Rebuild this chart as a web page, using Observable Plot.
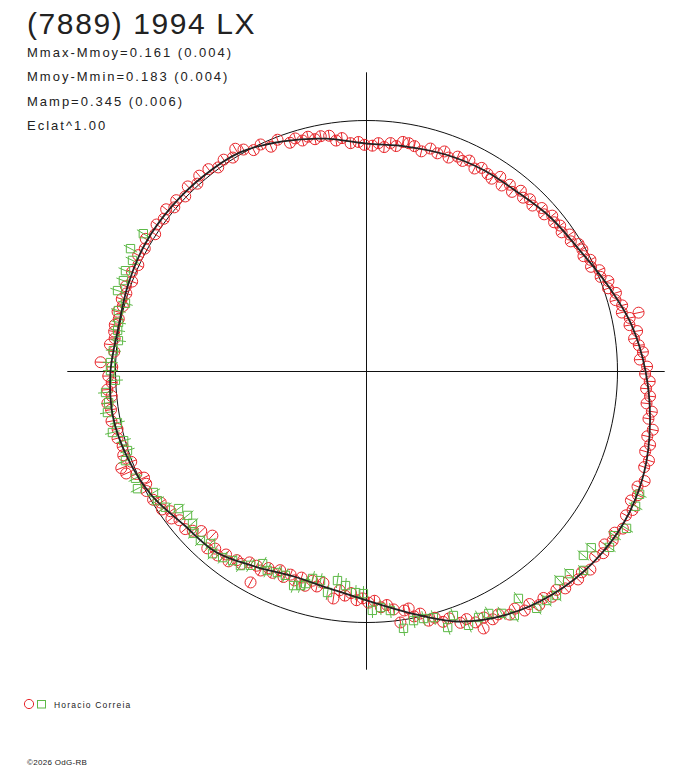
<!DOCTYPE html>
<html><head><meta charset="utf-8">
<script src="https://cdn.jsdelivr.net/npm/d3@7"></script>
<script src="https://cdn.jsdelivr.net/npm/@observablehq/plot@0.6"></script>
<style>
body{margin:0;background:#fff;}
#wrap{position:relative;width:688px;height:768px;font-family:"Liberation Sans",Arial,sans-serif;color:#222;overflow:hidden;}
#chart{position:absolute;left:0;top:0;}
.t{position:absolute;white-space:nowrap;line-height:1;}
</style></head><body>
<div id="wrap">
  <div id="chart"></div>
  <div class="t" id="title" style="left:27px;top:8.9px;font-size:30px;letter-spacing:1.6px"></div>
  <div class="t" id="s0" style="left:27px;top:45.5px;font-size:13px;letter-spacing:2px"></div>
  <div class="t" id="s1" style="left:27px;top:70px;font-size:13px;letter-spacing:2px"></div>
  <div class="t" id="s2" style="left:27px;top:94.5px;font-size:13px;letter-spacing:2px"></div>
  <div class="t" id="s3" style="left:27px;top:119px;font-size:13px;letter-spacing:2px"></div>
  <svg style="position:absolute;left:0;top:690px" width="60" height="30">
    <circle cx="29" cy="14" r="4.6" fill="none" stroke="#e8262b" stroke-width="1"/>
    <rect x="37.5" y="10.5" width="8" height="7.5" fill="none" stroke="#5db947" stroke-width="1"/>
  </svg>
  <div class="t" id="legend" style="left:54px;top:700.8px;font-size:8.5px;letter-spacing:1.2px"></div>
  <div class="t" id="copy" style="left:27px;top:759px;font-size:8px;letter-spacing:0.3px"></div>
</div>
<script>
// ---- texts ----
const titleText = "(7889) 1994 LX";
const statLines = ["Mmax-Mmoy=0.161 (0.004)", "Mmoy-Mmin=0.183 (0.004)", "Mamp=0.345 (0.006)", "Eclat^1.00"];
const observer = "Horacio Correia";
const copyright = "©2026 OdG-RB";

// ---- fit curve: relative flux vs rotational phase (degrees) ----
const fitPhase = [0,10,20,30,40,50,60,70,80,90,100,110,120,130,140,150,160,170,180,190,200,210,220,230,240,250,260,270,280,290,300,310,320,330,340,350];
const fitFlux  = [1.112,1.072,1.019,0.976,0.956,0.934,0.928,0.920,0.910,0.908,0.942,0.976,1.008,1.014,1.017,1.018,1.011,1.004,1.020,1.026,1.012,0.988,0.950,0.937,0.896,0.867,0.876,0.912,0.976,1.060,1.118,1.157,1.181,1.189,1.177,1.147];

// ---- mean flux reference circle and axis reach ----
const meanFlux = 1;
const axisReach = 1.19;

// ---- session 1 (red circles) ----
const redPhase = [1,2.5,4,5.5,7,8.5,10,11.5,12.2,13,14.5,16,17.5,19,20.5,22,23.5,25,26.5,28,29.5,
31,32.5,34,35.5,37,38.5,40,41.5,43,45,46.5,48,49.5,51,52.5,54,55.5,57,58.5,
60.5,62,64,65.5,67,69,70.5,72,74,76,78,79.5,81,82.5,84,85.5,87,88.5,
90.5,92,94,96,97.5,99,101,102.5,104,105.5,107,108.5,111,113,115,117,119,
120.5,122,124,126,128,130.5,132,134,136,138,139.5,141,143,145,147,149,
151,153,155,157,159,160.5,162,163.5,165,166.5,168,169.5,
171,172.5,174,175.5,178,179,181,182.5,184,185.5,187,188.5,191,193,195,197,199,
201,201.5,203,204,205.5,207,208.5,211,212.5,214,215.5,217,218.5,
221,222.5,224,226.8,228,229.5,231,232.5,234,235.5,237,238.5,
240.5,241.2,242,243.5,245,246.5,248,249.5,251,252.5,254,255.5,257,258.5,
261.7,263,264.5,266,267.5,269,270.5,272,273.5,275,276.5,277.7,279,280.1,
281,282.5,284,285.5,287,288.5,290.5,292,293.5,294.5,295.5,297,298.5,
300.5,302,303.5,305,306.5,308,309.5,311,312.5,314,315.5,317,318.5,
321,322.5,324,325.5,327,328.5,331,332.5,334,335.5,337,338.5,
341,342.5,344,345.5,347,348.5,350.5,352,353.5,355,356.5,358,359.5];
const redFlux = [1.118,1.090,1.104,1.090,1.074,1.090,1.064,1.070,1.109,1.044,1.052,1.032,1.042,1.018,1.029,1.006,1.012,0.987,0.997,0.979,0.988,
0.986,0.965,0.976,0.955,0.966,0.955,0.966,0.945,0.955,0.935,0.946,0.932,0.947,0.921,0.938,0.916,0.941,0.916,0.923,
0.932,0.916,0.935,0.922,0.930,0.913,0.930,0.914,0.924,0.904,0.918,0.925,0.926,0.906,0.915,0.897,0.911,0.900,
0.903,0.915,0.912,0.935,0.928,0.951,0.955,0.948,0.964,0.955,0.971,0.961,0.989,0.973,0.998,0.990,1.011,
1.030,1.005,1.018,1.005,1.023,1.026,1.007,1.025,1.004,1.020,1.007,1.027,1.011,1.021,1.004,1.026,
1.010,1.021,1.003,1.015,1.000,1.017,1.006,1.017,1.005,1.020,1.009,1.020,
1.018,1.012,1.028,1.008,1.060,1.013,1.029,1.016,1.035,1.020,1.040,1.029,1.035,1.018,1.027,1.016,1.025,
1.004,1.050,1.040,1.004,0.982,0.985,0.998,0.992,0.972,0.983,0.959,0.973,0.952,
0.957,0.939,0.915,0.897,0.948,0.928,0.943,0.919,0.935,0.912,0.914,0.892,
0.889,0.959,0.898,0.875,0.885,0.863,0.883,0.864,0.880,0.861,0.888,0.861,0.879,0.860,
0.914,0.878,0.897,0.885,0.912,0.904,0.921,0.914,0.941,0.934,0.954,1.009,0.964,0.959,
0.994,0.988,1.023,1.018,1.043,1.037,1.069,1.064,1.090,1.125,1.086,1.108,1.101,
1.124,1.114,1.142,1.131,1.157,1.145,1.163,1.153,1.172,1.160,1.182,1.173,1.191,
1.172,1.189,1.172,1.190,1.179,1.198,1.182,1.195,1.172,1.188,1.173,1.191,
1.170,1.180,1.155,1.167,1.148,1.164,1.139,1.148,1.123,1.134,1.116,1.129,1.110];
const redErr = 0.022;

// ---- session 2 (green squares) ----
const greenPhase = [148.3,152.5,154.6,157.3,159.5,162,164.2,166.2,168.8,170.6,172.9,175.3,178,179.8,
182,184.6,186.9,189,191.6,193.5,195.9,198.3,200.3,204.8,207.1,209.6,211.7,214,216.1,218.8,221.1,223.1,225.5,227.8,229.8,
232.3,234.7,237,239.1,241.6,243.5,246.1,248.3,251.2,252.9,254,255.4,257.6,260,262.1,264.4,267.2,269.2,
271.4,273.4,275.7,278.2,280.7,283,285.2,287.6,289.6,291.9,294.5,296.8,299.2,301.2,303.8,305.7,308.2,310.3,
312.7,315.1,317.5,319.7,321.9,324.1,326.5,328.9,333.4,335.8];
const greenFlux = [1.045,1.060,1.032,1.041,1.034,1.043,0.998,1.018,1.007,1.005,0.996,1.012,1.021,1.020,
1.001,1.043,1.035,1.045,1.013,1.041,1.006,1.003,1.024,1.014,1.025,0.976,0.979,0.967,0.927,0.915,0.920,0.944,0.944,0.925,0.950,
0.937,0.923,0.922,0.900,0.870,0.886,0.876,0.874,0.901,0.892,0.879,0.852,0.853,0.894,0.841,0.857,0.882,0.885,
0.952,0.942,0.957,1.034,1.010,1.010,1.016,1.070,1.032,1.090,1.077,1.080,1.104,1.137,1.088,1.162,1.161,1.170,
1.133,1.141,1.173,1.133,1.138,1.195,1.185,1.210,1.199,1.193];
const greenErr = 0.03;

// ---- polar -> cartesian ----
const rad = d => d * Math.PI / 180;
function polar(phases, fluxes, err) {
  return phases.map((p, i) => {
    const f = fluxes[i], c = Math.cos(rad(p)), s = Math.sin(rad(p));
    return {phase: p, flux: f, x: f * c, y: f * s,
      xa: (f - err) * c, ya: (f - err) * s, xb: (f + err) * c, yb: (f + err) * s};
  });
}
const red = polar(redPhase, redFlux, redErr);
const green = polar(greenPhase, greenFlux, greenErr);
const fit = polar(fitPhase, fitFlux, 0);
const refPhase = d3.range(0, 360, 2);
const ref = polar(refPhase, refPhase.map(() => meanFlux), 0);

const redColor = "#e8262b", greenColor = "#5db947";

const chart = Plot.plot({
  width: 688, height: 768,
  marginLeft: 64.8, marginRight: 20.8, marginTop: 69.8, marginBottom: 95.8,
  x: {domain: [-1.2, 1.2], axis: null},
  y: {domain: [-1.2, 1.2], axis: null},
  marks: [
    Plot.line(ref, {x: "x", y: "y", curve: "linear-closed", stroke: "#111", strokeWidth: 1}),
    Plot.ruleY([0], {x1: -axisReach, x2: axisReach, stroke: "#111", strokeWidth: 1}),
    Plot.ruleX([0], {y1: -axisReach, y2: axisReach, stroke: "#111", strokeWidth: 1}),
    Plot.link(red, {x1: "xa", y1: "ya", x2: "xb", y2: "yb", stroke: redColor, strokeWidth: 1}),
    Plot.dot(red, {x: "x", y: "y", r: 5.5, stroke: redColor, strokeWidth: 1}),
    Plot.link(green, {x1: "xa", y1: "ya", x2: "xb", y2: "yb", stroke: greenColor, strokeWidth: 1}),
    Plot.dot(green, {x: "x", y: "y", r: 4.7, symbol: "square", stroke: greenColor, strokeWidth: 1}),
    Plot.line(fit, {x: "x", y: "y", curve: "catmull-rom-closed", stroke: "#222", strokeWidth: 1.8})
  ]
});
document.getElementById("chart").appendChild(chart);
document.getElementById("title").textContent = titleText;
statLines.forEach((s, i) => document.getElementById("s" + i).textContent = s);
document.getElementById("legend").textContent = observer;
document.getElementById("copy").textContent = copyright;
</script>
</body></html>
